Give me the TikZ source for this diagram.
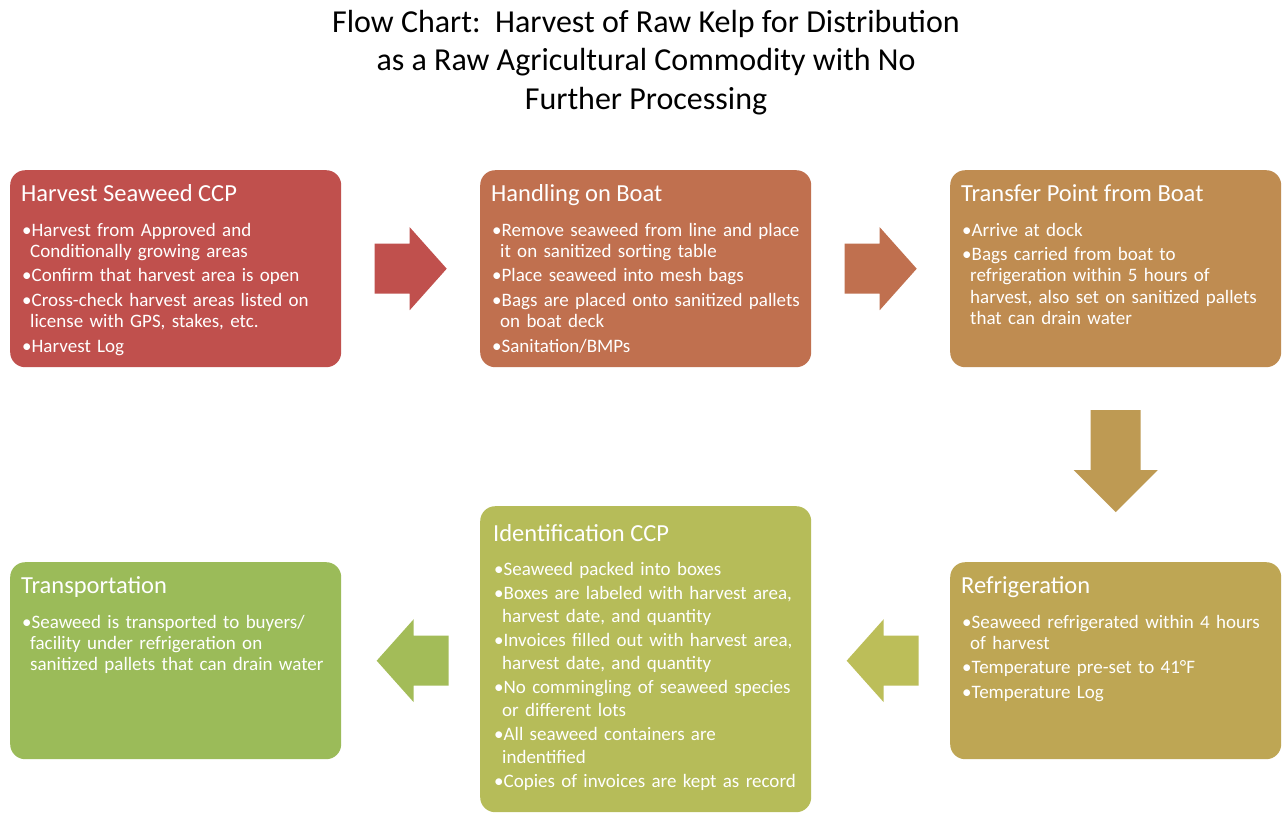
\documentclass[tikz,border=0pt]{standalone}
\usepackage{fontspec}
\setmainfont{Carlito}
\usetikzlibrary{calc}

\definecolor{cA}{HTML}{C0504D}
\definecolor{cB}{HTML}{C0704F}
\definecolor{cC}{HTML}{BF8C51}
\definecolor{cD}{HTML}{BE9A53}
\definecolor{cE}{HTML}{BEA654}
\definecolor{cF}{HTML}{BCBE59}
\definecolor{cG}{HTML}{B6BC59}
\definecolor{cH}{HTML}{A3BC58}
\definecolor{cI}{HTML}{9BBB59}

% one bullet item with a hanging indent; lines inside an item are split with \newline
\newlength{\itemgap}
\setlength{\itemgap}{3.5pt}
\newcommand{\bitem}[1]{\hangindent=8pt\hangafter=1\noindent\textbullet#1\par\vskip\itemgap}

\tikzset{
  stepbox/.style={rounded corners=15pt, minimum width=331pt, inner sep=0pt, anchor=north west},
  headtxt/.style={anchor=base west, inner sep=0pt, text=white, font=\fontsize{24.5}{29}\selectfont},
  bodytxt/.style={anchor=base west, inner sep=0pt, text=white, text width=325pt, align=left,
    font=\fontsize{19}{21.2}\selectfont},
  titletxt/.style={inner sep=0pt, align=center, font=\fontsize{32}{38.5}\selectfont},
  rarr/.pic={\fill (-36,-25) -- (-1,-25) -- (-1,-41.5) -- (36,0) -- (-1,41.5) -- (-1,25) -- (-36,25) -- cycle;},
  darr/.pic={\fill (-25,-54.5) -- (25,-54.5) -- (25,5.5) -- (42,5.5) -- (0,47.5) -- (-42,5.5) -- (-25,5.5) -- cycle;}
}

\begin{document}
\begin{tikzpicture}[x=1pt, y=-1pt]
\useasboundingbox[fill=white] (0,0) rectangle (1283,812);

% title
\node[titletxt, anchor=north] (title) at (646,10) {Flow Chart:\ \ Harvest of Raw Kelp for Distribution\\as a Raw Agricultural Commodity with No\\Further Processing};

% step boxes
\node[stepbox, fill=cA, minimum height=197pt] (b1) at (10,170) {};
\node[stepbox, fill=cB, minimum height=197pt] (b2) at (480,170) {};
\node[stepbox, fill=cC, minimum height=197pt] (b3) at (950,170) {};
\node[stepbox, fill=cE, minimum height=197pt] (b4) at (950,562) {};
\node[stepbox, fill=cG, minimum height=306pt] (b5) at (480,506) {};
\node[stepbox, fill=cI, minimum height=197pt] (b6) at (10,562) {};

% headings
\node[headtxt] (h1) at ($(b1.north west)+(11,31)$) {Harvest Seaweed CCP};
\node[headtxt] (h2) at ($(b2.north west)+(11,31)$) {Handling on Boat};
\node[headtxt] (h3) at ($(b3.north west)+(11,31)$) {Transfer Point from Boat};
\node[headtxt] (h4) at ($(b4.north west)+(11,31)$) {Refrigeration};
\node[headtxt] (h5) at ($(b5.north west)+(13,35)$) {Identification CCP};
\node[headtxt] (h6) at ($(b6.north west)+(11,31)$) {Transportation};

% bullet lists
\node[bodytxt] (t1) at ($(b1.north west)+(12,66)$) {%
\bitem{Harvest from Approved and\newline Conditionally growing areas}
\bitem{Confirm that harvest area is open}
\bitem{Cross-check harvest areas listed on\newline license with GPS, stakes, etc.}
\bitem{Harvest Log}};
\node[bodytxt] (t2) at ($(b2.north west)+(12,66)$) {%
\bitem{Remove seaweed from line and place\newline it on sanitized sorting table}
\bitem{Place seaweed into mesh bags}
\bitem{Bags are placed onto sanitized pallets\newline on boat deck}
\bitem{Sanitation/BMPs}};
\node[bodytxt] (t3) at ($(b3.north west)+(12,66)$) {%
\bitem{Arrive at dock}
\bitem{Bags carried from boat to\newline refrigeration within 5 hours of\newline harvest, also set on sanitized pallets\newline that can drain water}};
\node[bodytxt] (t4) at ($(b4.north west)+(12,66)$) {%
\bitem{Seaweed refrigerated within 4 hours\newline of harvest}
\bitem{Temperature pre-set to 41°F}
\bitem{Temperature Log}};
\node[bodytxt, font=\fontsize{19}{22.2}\selectfont\setlength{\itemgap}{2.6pt}] (t5) at ($(b5.north west)+(14,69)$) {%
\bitem{Seaweed packed into boxes}
\bitem{Boxes are labeled with harvest area,\newline harvest date, and quantity}
\bitem{Invoices filled out with harvest area,\newline harvest date, and quantity}
\bitem{No commingling of seaweed species\newline or different lots}
\bitem{All seaweed containers are\newline indentified}
\bitem{Copies of invoices are kept as record}};
\node[bodytxt] (t6) at ($(b6.north west)+(12,66)$) {%
\bitem{Seaweed is transported to buyers/\newline facility under refrigeration on\newline sanitized pallets that can drain water}};

% block arrows between the steps
\coordinate (m12) at ($(b1.east)!0.5!(b2.west)$);
\coordinate (m23) at ($(b2.east)!0.5!(b3.west)$);
\coordinate (m34) at ($(b3.south)!0.5!(b4.north)$);
\coordinate (m45) at ($(b5.east|-b4.east)!0.5!(b4.west)$);
\coordinate (m56) at ($(b6.east)!0.5!(b5.west|-b6.west)$);
\pic[fill=cA] at (m12) {rarr};
\pic[fill=cB] at (m23) {rarr};
\pic[fill=cD] at (m34) {darr};
\pic[fill=cF, rotate=180] at ($(m45)+(2,0)$) {rarr};
\pic[fill=cH, rotate=180] at ($(m56)+(2,0)$) {rarr};
\end{tikzpicture}
\end{document}
